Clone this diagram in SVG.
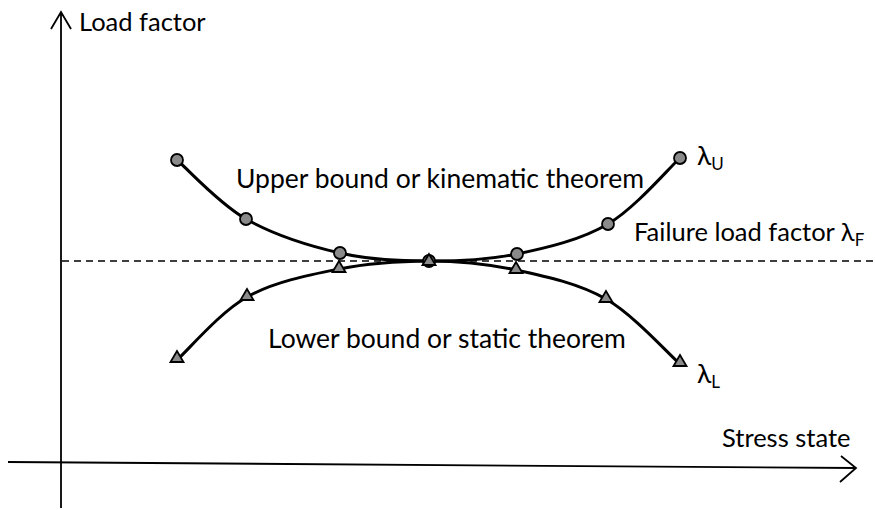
<svg xmlns="http://www.w3.org/2000/svg" xmlns:xlink="http://www.w3.org/1999/xlink" width="875" height="510" viewBox="0 0 875 510">
<style>
.axis{stroke:#000;stroke-width:1.8;fill:none}
.curve{stroke:#000;stroke-width:3;fill:none}
.dash{stroke:#000;stroke-width:1.3;stroke-dasharray:7,5;fill:none}
.mk{fill:#8a8a8a;stroke:#000;stroke-width:1.8}
text{font-family:Lato,"Open Sans","DejaVu Sans",sans-serif;fill:#000}
.lbl{font-size:26.5px}
.ax{font-size:25.5px}
.sub{font-size:17px}
</style>
<defs>
<circle id="circ" class="mk" cx="0" cy="0" r="6"/>
<polygon id="tri" class="mk" points="0,-7 -6.5,4 6.5,4"/>
</defs>
<rect width="875" height="510" fill="#fff"/>
<g id="connectors">
<line class="dash" x1="62" y1="261" x2="875" y2="261"/>
<path class="axis" d="M61,508 L61,12 M51,29 L61,12 L71,29"/>
<path class="axis" d="M8,462 L856,468 M841,456 L856,468 L840,482"/>
<path class="curve" d="M177,160 C188.5,169.8 218.8,203.5 246,219 C273.2,234.5 309.5,246 340,253 C370.5,260 399.5,260.8 429,261 C458.5,261.2 487.2,260.2 517,254 C546.8,247.8 580.8,240 608,224 C635.2,208 668,169 680,158"/>
<path class="curve" d="M177,360 C188.7,349.5 220,312.2 247,297 C274,281.8 308.7,275 339,269 C369.3,263 399.5,261.2 429,261 C458.5,261.2 486.5,263.7 516,270 C545.5,276.3 578.7,283.3 606,299 C633.3,314.7 667.7,353.2 680,364"/>
</g>
<g id="upper-markers">
<use xlink:href="#circ" x="177" y="160"/>
<use xlink:href="#circ" x="246" y="219"/>
<use xlink:href="#circ" x="340" y="253"/>
<use xlink:href="#circ" x="517" y="254"/>
<use xlink:href="#circ" x="608" y="224"/>
<use xlink:href="#circ" x="680" y="158"/>
</g>
<g id="lower-markers">
<use xlink:href="#tri" x="177" y="358"/>
<use xlink:href="#tri" x="247" y="296"/>
<use xlink:href="#tri" x="339" y="268"/>
<use xlink:href="#tri" x="516" y="269"/>
<use xlink:href="#tri" x="606" y="298"/>
<use xlink:href="#tri" x="680" y="362"/>
</g>
<g id="center-marker">
<use xlink:href="#circ" x="429" y="261"/>
<use xlink:href="#tri" x="429" y="261"/>
</g>
<g id="labels">
<text class="ax" x="79" y="31">Load factor</text>
<text class="lbl" x="236" y="188">Upper bound or kinematic theorem</text>
<text class="lbl" x="268" y="348">Lower bound or static theorem</text>
<text x="634" y="241" font-size="25.5px">Failure load factor λ<tspan class="sub" dy="5">F</tspan></text>
<text class="lbl" x="697" y="165">λ<tspan class="sub" dy="5">U</tspan></text>
<text class="lbl" x="697" y="383">λ<tspan class="sub" dy="5">L</tspan></text>
<text class="ax" x="722" y="447">Stress state</text>
</g>
</svg>
